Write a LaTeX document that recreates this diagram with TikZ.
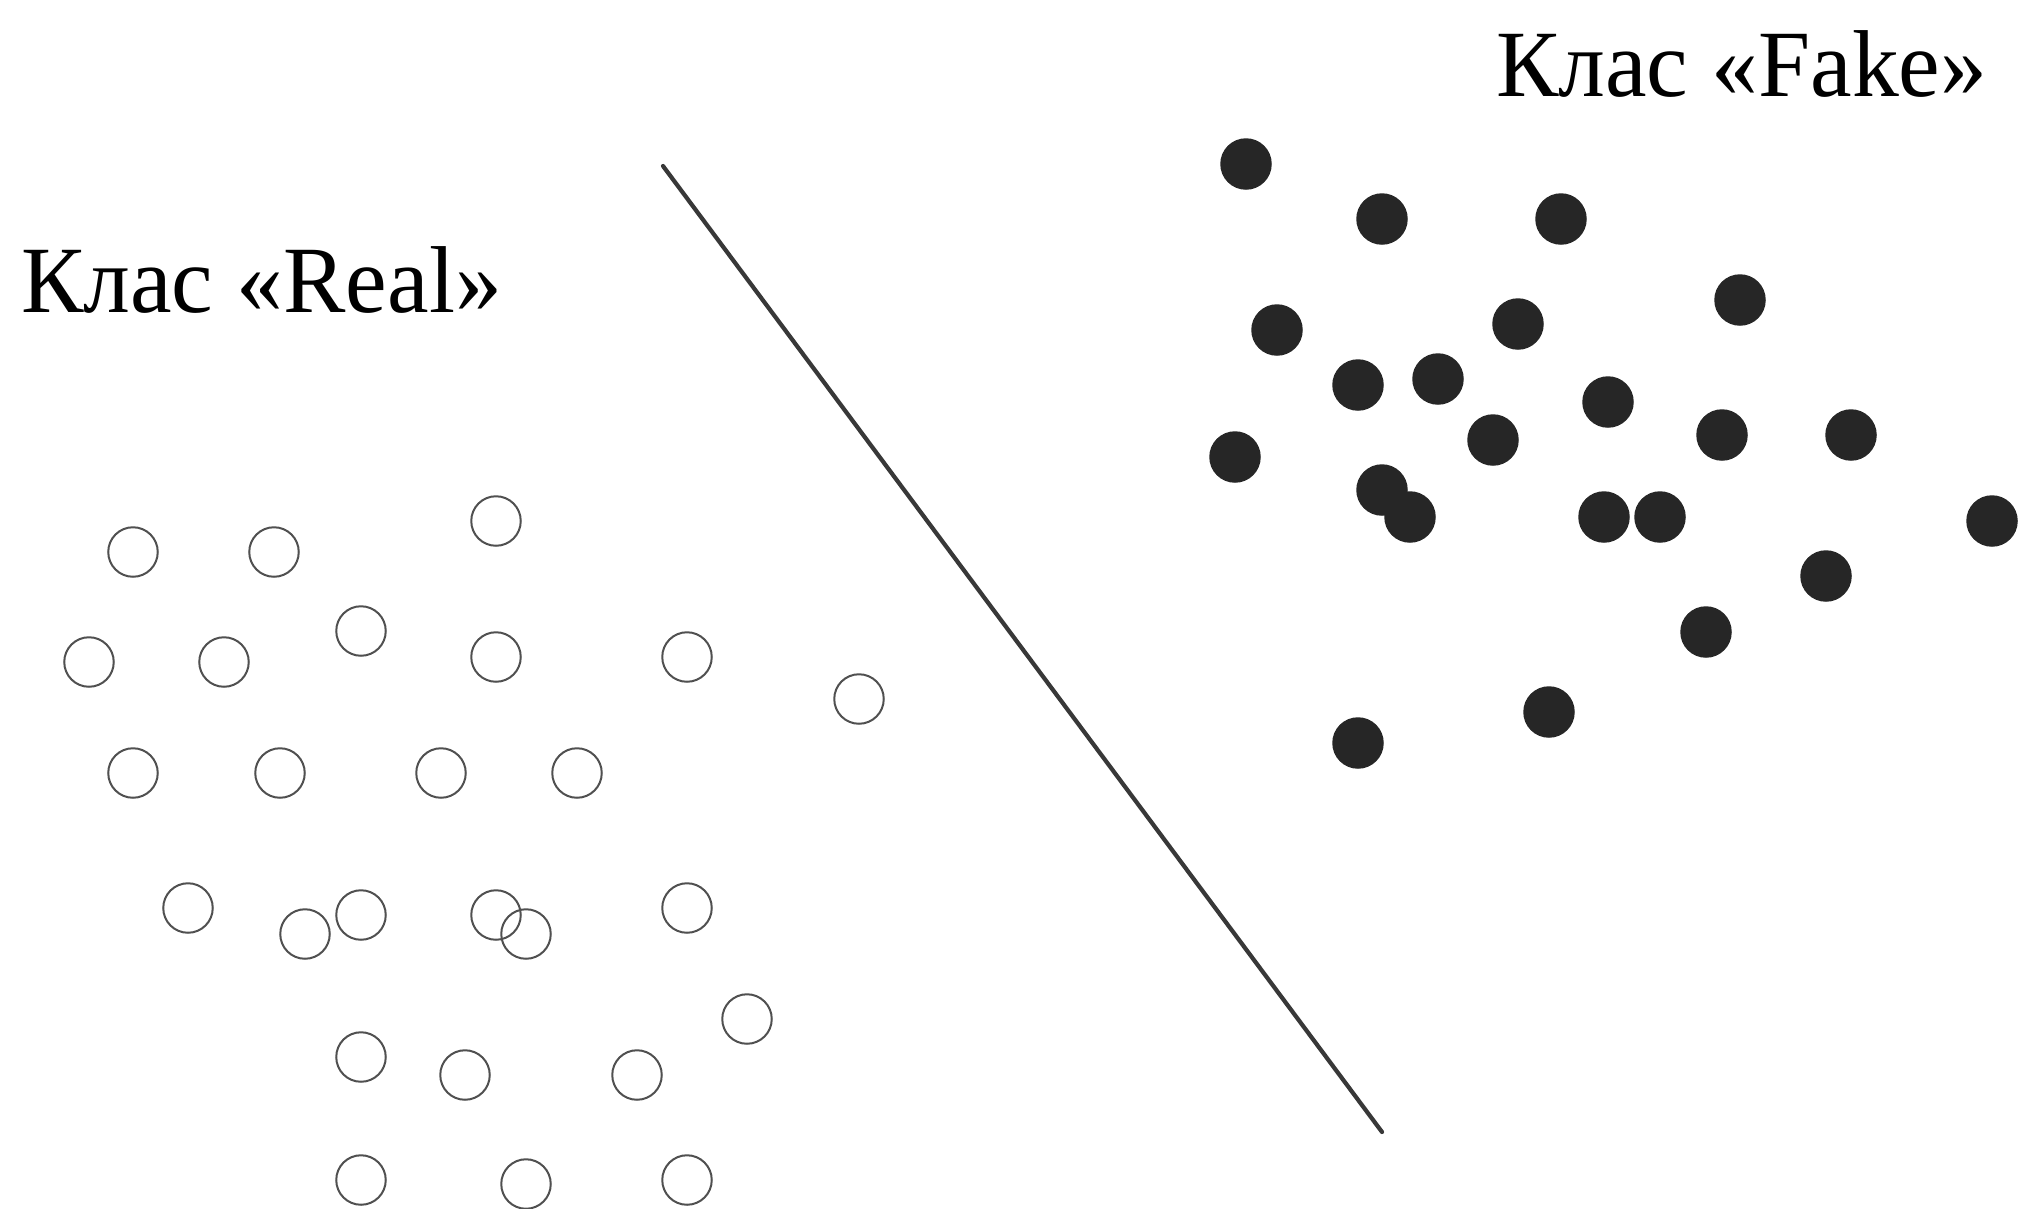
\documentclass[tikz,border=0pt]{standalone}
\usepackage{fontspec}
\setmainfont{Liberation Serif}
\definecolor{dotfill}{HTML}{262626}
\definecolor{ringcol}{HTML}{505050}
\definecolor{linecol}{HTML}{383838}
\begin{document}
\begin{tikzpicture}[x=1pt,y=-1pt,
  realpt/.style={circle,draw=ringcol,line width=2pt,minimum size=49.5pt,inner sep=0pt},
  fakept/.style={circle,fill=dotfill,minimum size=51.5pt,inner sep=0pt},
  lbl/.style={anchor=base west,inner sep=0pt,xscale=0.985,font=\fontsize{95}{110}\selectfont}]
\useasboundingbox[fill=white] (0,0) rectangle (2020,1208);
% labels
\node[lbl] (lreal) at (21,312) {Клас «Real»};
\node[lbl] (lfake) at (1496,96) {Клас «Fake»};
% separating line
\coordinate (s1) at (663,166);
\coordinate (s2) at (1382,1132);
\draw[linecol,line width=4.2pt,line cap=round] (s1) -- (s2);
% Real class (open circles)
\foreach \i/\x/\y in {1/133/552, 2/274/552, 3/496/521,
  4/89/662, 5/224/662, 6/361/631, 7/496/657, 8/687/657, 9/859/699,
  10/133/773, 11/280/773, 12/441/773, 13/577/773,
  14/188/908, 15/305/934, 16/361/915, 17/496/915, 18/526/934, 19/687/908,
  20/747/1019,
  21/361/1057, 22/465/1075, 23/637/1075,
  24/361/1180, 25/526/1184, 26/687/1180}
  \node[realpt] (r\i) at (\x,\y) {};
% Fake class (filled dots)
\foreach \i/\x/\y in {1/1246/164, 2/1382/219, 3/1561/219,
  4/1277/330, 5/1518/324, 6/1740/300,
  7/1358/385, 8/1438/379, 9/1608/402,
  10/1493/440, 11/1722/435, 12/1851/435,
  13/1235/457, 14/1382/490, 15/1410/517, 16/1604/517, 17/1660/517, 18/1992/521,
  19/1826/576, 20/1706/632, 21/1549/712, 22/1358/743}
  \node[fakept] (f\i) at (\x,\y) {};
\end{tikzpicture}
\end{document}
